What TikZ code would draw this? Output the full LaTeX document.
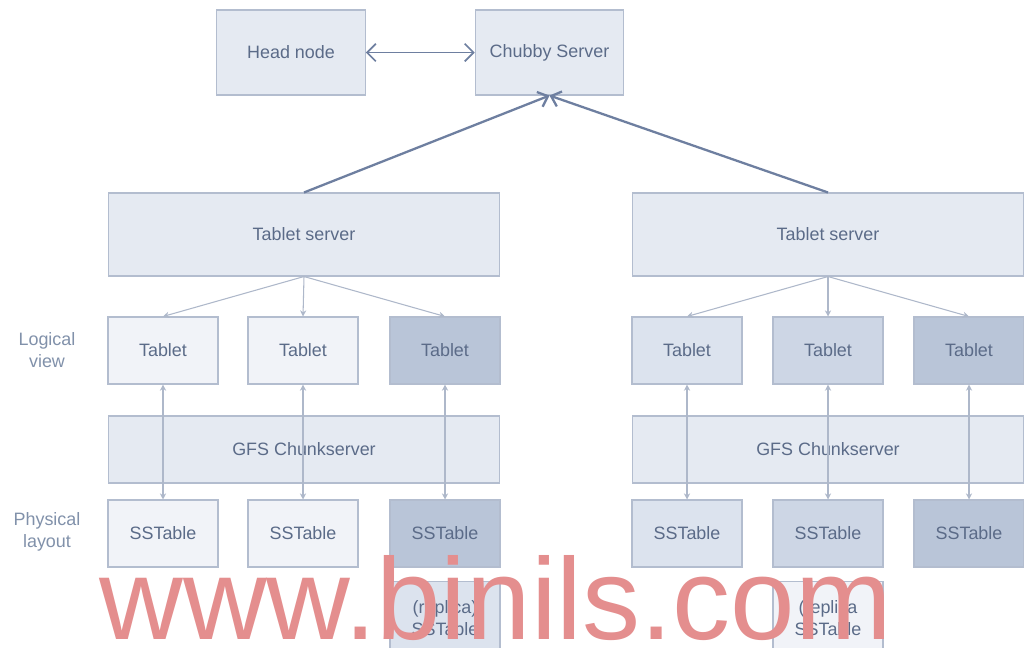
\documentclass[tikz,border=0pt]{standalone}
\usepackage{fontspec}
\setmainfont{Liberation Sans}
\usetikzlibrary{arrows.meta}
\definecolor{boxfill}{HTML}{E5EAF2}
\definecolor{boxline}{HTML}{B3BDCF}
\definecolor{pale}{HTML}{F1F3F8}
\definecolor{lightb}{HTML}{DCE3EE}
\definecolor{midb}{HTML}{CDD6E5}
\definecolor{darkb}{HTML}{B9C5D8}
\definecolor{txt}{HTML}{5B6B88}
\definecolor{labtxt}{HTML}{8191AA}
\definecolor{link}{HTML}{6E7FA0}
\definecolor{thinline}{HTML}{AEB8CA}
\definecolor{wmark}{HTML}{E48E8E}
\begin{document}
\begin{tikzpicture}[x=0.02cm,y=-0.02cm,
  box/.style={draw=boxline, line width=0.6pt, fill=boxfill, text=txt,
    font=\fontsize{10.2}{12.5}\selectfont, inner sep=0pt, align=center},
  topbox/.style={box, minimum width=2.97cm, minimum height=1.7cm},
  serverbox/.style={box, minimum width=7.84cm, minimum height=1.66cm},
  chunkbox/.style={box, minimum width=7.84cm, minimum height=1.34cm},
  unit/.style={box, minimum width=2.2cm, minimum height=1.34cm},
  replbox/.style={box, minimum width=2.2cm, minimum height=1.45cm},
  sidelab/.style={text=labtxt, font=\fontsize{10.2}{12.5}\selectfont, align=center, inner sep=0pt},
  fan/.style={draw=thinline, line width=0.6pt, -{Stealth[length=3.5pt,width=3.5pt]}},
  updown/.style={draw=thinline, line width=0.6pt, {Stealth[length=3.5pt,width=3.5pt]}-{Stealth[length=3.5pt,width=3.5pt]}},
  master/.style={draw=link, line width=1.3pt, -{Straight Barb[length=5pt,width=9pt]}},
  peer/.style={draw=link, line width=1pt, {Straight Barb[length=5pt,width=10pt]}-{Straight Barb[length=5pt,width=10pt]}}]
\useasboundingbox (0,0) rectangle (1024,647);
\fill[white] (0,0) rectangle (1024,647);

% master tier
\node[topbox] (head) at (291,52.5) {Head node};
\node[topbox] (chubby) at (549.5,52.5) {Chubby Server};

% left tablet server
\node[serverbox] (tsL) at (304,234.5) {Tablet server};
\node[unit, fill=pale] (tL1) at (163,350.5) {Tablet};
\node[unit, fill=pale] (tL2) at (303,350.5) {Tablet};
\node[unit, fill=darkb] (tL3) at (445,350.5) {Tablet};
\node[chunkbox] (gfsL) at (304,449.5) {GFS Chunkserver};
\node[unit, fill=pale] (sL1) at (163,533.5) {SSTable};
\node[unit, fill=pale] (sL2) at (303,533.5) {SSTable};
\node[unit, fill=darkb] (sL3) at (445,533.5) {SSTable};
\node[replbox, fill=lightb] (rL) at (445,618) {(replica)\\SSTable};

% right tablet server
\node[serverbox] (tsR) at (828,234.5) {Tablet server};
\node[unit, fill=lightb] (tR1) at (687,350.5) {Tablet};
\node[unit, fill=midb] (tR2) at (828,350.5) {Tablet};
\node[unit, fill=darkb] (tR3) at (969,350.5) {Tablet};
\node[chunkbox] (gfsR) at (828,449.5) {GFS Chunkserver};
\node[unit, fill=lightb] (sR1) at (687,533.5) {SSTable};
\node[unit, fill=midb] (sR2) at (828,533.5) {SSTable};
\node[unit, fill=darkb] (sR3) at (969,533.5) {SSTable};
\node[replbox, fill=pale] (rR) at (828,618) {(replica\\SSTable};

% row captions
\node[sidelab] (logical) at (47,350) {Logical\\view};
\node[sidelab] (physical) at (47,532) {Physical\\layout};

% connectors
\draw[peer] (head) -- (chubby);
\draw[master] (tsL.north) -- (chubby.south);
\draw[master] (tsR.north) -- (chubby.south);

\foreach \s in {L,R}{
  \foreach \i in {1,2,3}{
    \draw[fan] (ts\s.south) -- (t\s\i.north);
    \draw[updown] (t\s\i.south) -- (s\s\i.north);
  }
}

% watermark
\node[anchor=base west, text=wmark, font=\fontsize{66}{66}\selectfont, inner sep=0pt] (wm) at (99,639) {www.binils.com};
\end{tikzpicture}
\end{document}
